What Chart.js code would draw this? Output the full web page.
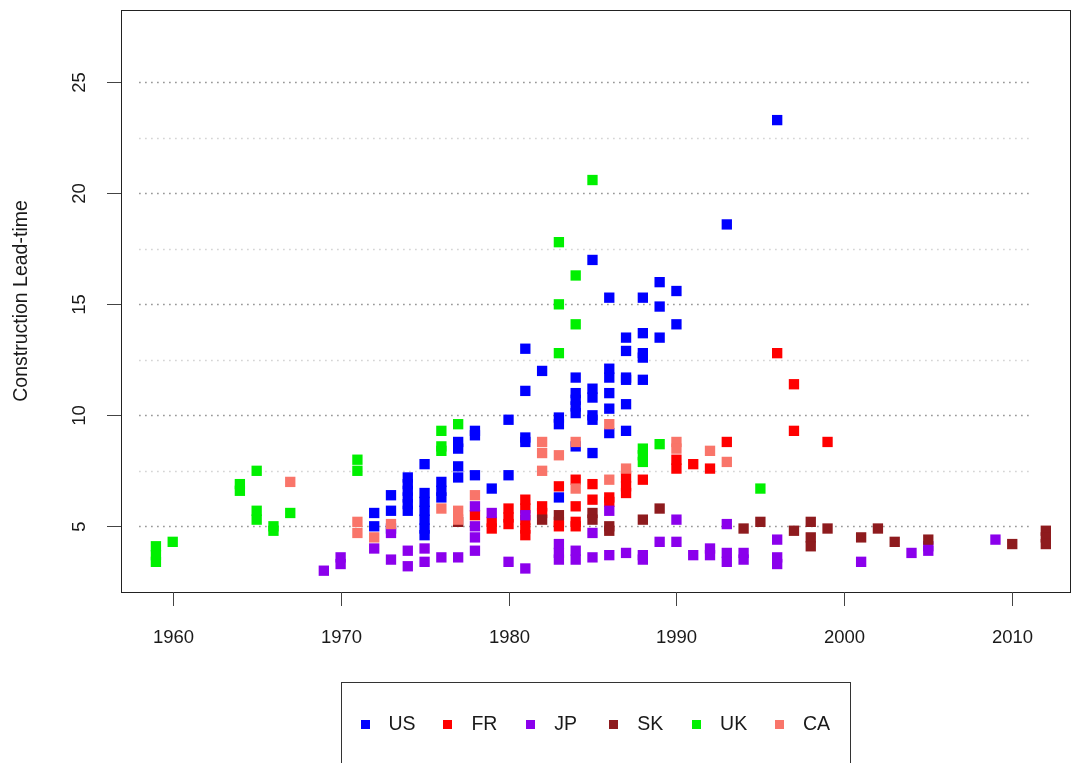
<!DOCTYPE html>
<html><head><meta charset="utf-8">
<script src="https://cdn.jsdelivr.net/npm/chart.js@4/dist/chart.umd.min.js"></script>
<style>html,body{margin:0;padding:0;background:#fff}canvas{display:block}</style>
</head><body>
<canvas id="c" width="1072" height="763"></canvas>
<script>
const seriesNames = ['US','FR','JP','SK','UK','CA'];
const seriesColors = ['#0000FF','#FF0000','#8B00EC','#8E1B1E','#00F000','#F9756A'];

const US = [[1972,5.6],[1972,5.0],[1973,6.4],[1973,5.7],[1973,4.9],
  [1974,7.2],[1974,6.9],[1974,6.6],[1974,6.3],[1974,6.0],[1974,5.7],
  [1975,7.8],[1975,6.5],[1975,6.1],[1975,5.7],[1975,5.3],[1975,4.9],[1975,4.6],
  [1976,7.0],[1976,6.6],[1976,6.3],[1977,8.8],[1977,8.5],[1977,7.7],[1977,7.2],
  [1978,9.3],[1978,9.1],[1978,7.3],[1979,6.7],[1980,9.8],[1980,7.3],
  [1981,13.0],[1981,11.1],[1981,9.0],[1981,8.8],[1982,12.0],
  [1983,9.9],[1983,9.6],[1983,6.3],
  [1984,11.7],[1984,11.0],[1984,10.7],[1984,10.4],[1984,10.1],[1984,8.6],
  [1985,17.0],[1985,11.2],[1985,10.8],[1985,10.0],[1985,9.8],[1985,8.3],
  [1986,15.3],[1986,12.1],[1986,11.7],[1986,11.0],[1986,10.3],[1986,9.2],
  [1987,13.5],[1987,12.9],[1987,11.7],[1987,11.6],[1987,10.5],[1987,9.3],
  [1988,15.3],[1988,13.7],[1988,12.8],[1988,12.6],[1988,11.6],
  [1989,16.0],[1989,14.9],[1989,13.5],[1990,15.6],[1990,14.1],
  [1993,18.6],[1996,23.3]];

const FR = [[1978,5.5],[1979,5.2],[1979,4.9],[1980,5.8],[1980,5.4],[1980,5.1],
  [1981,6.2],[1981,5.8],[1981,5.3],[1981,4.9],[1981,4.6],[1982,5.9],[1982,5.6],
  [1983,6.8],[1983,5.2],[1983,5.0],[1984,7.1],[1984,5.9],[1984,5.2],[1984,5.0],
  [1985,6.9],[1985,6.2],[1986,6.3],[1986,6.1],[1987,7.2],[1987,6.8],[1987,6.5],
  [1988,7.1],[1990,8.0],[1990,7.6],[1991,7.8],[1992,7.6],[1993,8.8],
  [1996,12.8],[1997,11.4],[1997,9.3],[1999,8.8]];

const JP = [[1969,3.0],[1970,3.6],[1970,3.3],[1972,4.0],[1973,4.7],[1973,3.5],
  [1974,3.9],[1974,3.2],[1975,4.0],[1975,3.4],[1976,3.6],[1977,3.6],
  [1978,5.9],[1978,5.0],[1978,4.5],[1978,3.9],[1979,5.6],[1980,3.4],
  [1981,5.5],[1981,3.1],[1983,4.2],[1983,3.8],[1983,3.5],[1984,3.9],[1984,3.5],
  [1985,4.7],[1985,3.6],[1986,5.7],[1986,3.7],[1987,3.8],[1988,3.7],[1988,3.5],
  [1989,4.3],[1990,5.3],[1990,4.3],[1991,3.7],[1992,4.0],[1992,3.7],
  [1993,5.1],[1993,3.8],[1993,3.4],[1994,3.8],[1994,3.5],
  [1996,4.4],[1996,3.6],[1996,3.3],[2001,3.4],[2004,3.8],[2005,4.1],[2005,3.9],[2009,4.4]];

const SK = [[1977,5.2],[1982,5.3],[1983,5.5],[1985,5.6],[1985,5.3],[1986,5.0],[1986,4.8],
  [1988,5.3],[1989,5.8],[1994,4.9],[1995,5.2],[1997,4.8],[1998,5.2],[1998,4.5],[1998,4.1],
  [1999,4.9],[2001,4.5],[2002,4.9],[2003,4.3],[2005,4.4],[2010,4.2],
  [2012,4.8],[2012,4.5],[2012,4.2]];

const UK = [[1959,4.1],[1959,3.7],[1959,3.4],[1960,4.3],[1964,6.9],[1964,6.6],
  [1965,7.5],[1965,5.7],[1965,5.3],[1966,5.0],[1966,4.8],[1967,5.6],
  [1971,8.0],[1971,7.5],[1976,9.3],[1976,8.6],[1976,8.4],[1977,9.6],
  [1983,17.8],[1983,15.0],[1983,12.8],[1984,16.3],[1984,14.1],[1985,20.6],
  [1988,8.5],[1988,8.2],[1988,7.9],[1989,8.7],[1995,6.7]];

const CA = [[1967,7.0],[1971,5.2],[1971,4.7],[1972,4.5],[1973,5.1],[1976,5.8],
  [1977,5.7],[1977,5.3],[1978,6.4],[1982,8.8],[1982,8.3],[1982,7.5],[1983,8.2],
  [1984,8.8],[1984,6.7],[1986,9.6],[1986,7.1],[1987,7.6],[1990,8.8],[1990,8.5],
  [1992,8.4],[1993,7.9]];

const xTicks = [1960,1970,1980,1990,2000,2010];
const yTicks = [5,10,15,20,25];
const yMinorGrid = [7.5,12.5,17.5,22.5];
const gridFrom = 1958, gridTo = 2011;
const yTitle = 'Construction Lead-time';

const allSeries = [US, FR, JP, SK, UK, CA];

const datasets = allSeries.map((s, i) => ({
  label: seriesNames[i],
  data: s.map(p => ({x: p[0], y: p[1]})),
  backgroundColor: seriesColors[i],
  borderWidth: 0,
  pointStyle: 'rect',
  pointRadius: 7.3,
  pointHoverRadius: 7.3,
  order: allSeries.length - i
}));

const FONT = '"Liberation Sans", Arial, Helvetica, sans-serif';

const rPlot = {
  id: 'rPlot',
  beforeDatasetsDraw(chart) {
    const ctx = chart.ctx, xs = chart.scales.x, ys = chart.scales.y;
    const x0 = xs.getPixelForValue(gridFrom), x1 = xs.getPixelForValue(gridTo);
    ctx.save();
    ctx.lineWidth = 1.5;
    ctx.setLineDash([1.5, 4.5]);
    const drawLines = (vals, col) => {
      ctx.strokeStyle = col;
      vals.forEach(v => {
        const y = Math.round(ys.getPixelForValue(v)) + 0.5;
        ctx.beginPath(); ctx.moveTo(x0, y); ctx.lineTo(x1, y); ctx.stroke();
      });
    };
    drawLines(yMinorGrid, '#cfcfcf');
    drawLines(yTicks, '#8a8a8a');
    ctx.restore();
  },
  afterDraw(chart) {
    const ctx = chart.ctx, xs = chart.scales.x, ys = chart.scales.y, a = chart.chartArea;
    ctx.save();
    // frame
    ctx.strokeStyle = '#222';
    ctx.lineWidth = 1;
    ctx.strokeRect(Math.round(a.left) + 0.5, Math.round(a.top) + 0.5,
                   Math.round(a.right - a.left), Math.round(a.bottom - a.top));
    // x ticks
    ctx.strokeStyle = '#444';
    ctx.fillStyle = '#1a1a1a';
    ctx.font = '18.5px ' + FONT;
    ctx.textAlign = 'center';
    ctx.textBaseline = 'middle';
    xTicks.forEach(t => {
      const x = Math.round(xs.getPixelForValue(t)) + 0.5;
      ctx.beginPath(); ctx.moveTo(x, a.bottom); ctx.lineTo(x, a.bottom + 14); ctx.stroke();
      ctx.fillText(String(t), x, 638);
    });
    // y ticks (rotated labels)
    yTicks.forEach(t => {
      const y = Math.round(ys.getPixelForValue(t)) + 0.5;
      ctx.beginPath(); ctx.moveTo(a.left, y); ctx.lineTo(a.left - 14, y); ctx.stroke();
      ctx.save();
      ctx.translate(80, y);
      ctx.rotate(-Math.PI / 2);
      ctx.fillText(String(t), 0, 0);
      ctx.restore();
    });
    // y title
    ctx.save();
    ctx.font = '19.5px ' + FONT;
    ctx.translate(22, (a.top + a.bottom) / 2);
    ctx.rotate(-Math.PI / 2);
    ctx.fillText(yTitle, 0, 0);
    ctx.restore();
    // legend box
    ctx.strokeStyle = '#333';
    ctx.lineWidth = 1;
    ctx.strokeRect(341.5, 682.5, 509, 100);
    ctx.font = '19.5px ' + FONT;
    ctx.textAlign = 'left';
    seriesNames.forEach((n, i) => {
      const cx = 365 + i * 82.9;
      ctx.fillStyle = seriesColors[i];
      ctx.fillRect(Math.round(cx - 4.5), 720, 9, 9);
      ctx.fillStyle = '#1a1a1a';
      ctx.fillText(n, cx + 23.5, 725);
    });
    ctx.restore();
  }
};

new Chart(document.getElementById('c'), {
  type: 'scatter',
  data: { datasets },
  options: {
    responsive: false,
    devicePixelRatio: 1,
    animation: false,
    layout: { autoPadding: false, padding: { left: 121, top: 10, right: 2, bottom: 171 } },
    scales: {
      x: { type: 'linear', min: 1956.92, max: 2013.44, display: false },
      y: { type: 'linear', min: 2.04, max: 28.26, display: false }
    },
    plugins: { legend: { display: false }, tooltip: { enabled: false } }
  },
  plugins: [rPlot]
});
</script>
</body></html>
